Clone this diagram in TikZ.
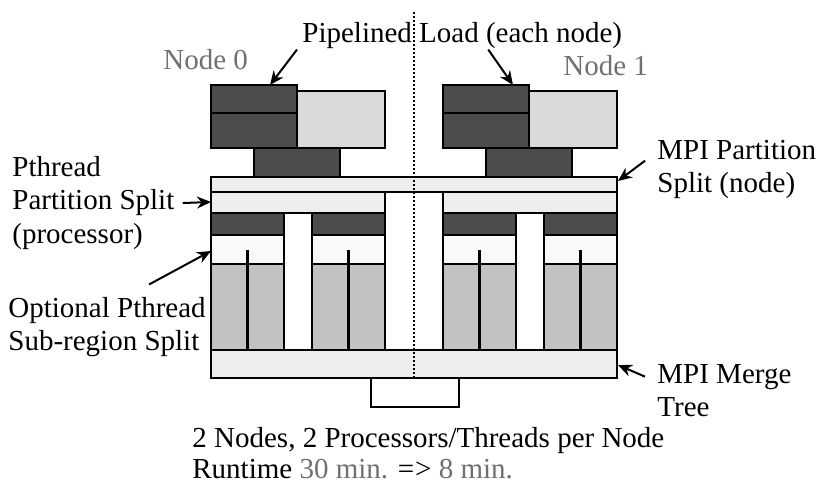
\documentclass[tikz,border=0pt]{standalone}
\usepackage{fontspec}
\setmainfont{Liberation Serif}
\usepackage{tikz}
\usetikzlibrary{positioning, arrows.meta, calc}
\usepackage{xcolor}
\definecolor{blkdark}{HTML}{4C4C4C}
\definecolor{blklight}{HTML}{DADADA}
\definecolor{blkbar}{HTML}{EEEEEE}
\definecolor{blkgray}{HTML}{C2C2C2}
\definecolor{blkwhite}{HTML}{F9F9F9}
\definecolor{txtgray}{HTML}{707070}

\tikzset{
  blk/.style={draw=black, line width=0.7pt},
  darkblk/.style={blk, fill=blkdark},
  litblk/.style={blk, fill=blklight},
  barblk/.style={blk, fill=blkbar},
  grayblk/.style={blk, fill=blkgray},
  whiteblk/.style={blk, fill=blkwhite},
  lbl/.style={font=\fontsize{14.5}{17}\selectfont, inner sep=0pt, anchor=base west},
  arr/.style={-{Stealth[length=7pt,width=6pt]}, line width=1pt},
}

\begin{document}
\begin{tikzpicture}[x=0.5pt, y=-0.5pt]
        \useasboundingbox (0,0) rectangle (817,491);

        % the two nodes
        \foreach \dx in {0,232} {
          % pipelined load stack
          \filldraw[darkblk] (211+\dx,85) rectangle (297+\dx,148);
          \draw[blk] (211+\dx,113) -- (297+\dx,113);
          \filldraw[litblk] (297+\dx,91) rectangle (385+\dx,148);
          \filldraw[darkblk] (254+\dx,148) rectangle (340+\dx,177);
          % pthread partition band
          \filldraw[barblk] (211+\dx,192) rectangle (385+\dx,213);
          % processor columns
          \foreach \cx in {211,312} {
            \filldraw[darkblk] (\cx+\dx,213) rectangle (\cx+\dx+73,235);
            \filldraw[whiteblk] (\cx+\dx,235) rectangle (\cx+\dx+73,264);
            \filldraw[grayblk] (\cx+\dx,264) rectangle (\cx+\dx+73,350);
            \draw[line width=1.3pt] (\cx+\dx+36.5,250) -- (\cx+\dx+36.5,350);
          }
        }

        % MPI split and merge bars
        \filldraw[barblk] (211,177) rectangle (617,192);
        \filldraw[barblk] (211,350) rectangle (617,378);
        \draw[line width=0.6pt] (371,378) -- (371,407) -- (459,407) -- (459,378);

        % node boundary
        \draw[line width=0.8pt, dash pattern=on 0.8pt off 1.2pt] (414,12) -- (414,378);

        % arrow targets
        \coordinate (ldA) at (270,85);
        \coordinate (ldB) at (513,85);
        \coordinate (pthT) at (211,202);
        \coordinate (optT) at (211,251);
        \coordinate (mpiT) at (618,181);
        \coordinate (mrgT) at (618,365);

        % labels
        \node[lbl] (pipe) at (302,43) {Pipelined Load (each node)};
        \node[lbl, text=txtgray] (nodeA) at (163,70) {Node 0};
        \node[lbl, text=txtgray] (nodeB) at (563,76) {Node 1};
        \node[lbl] (pthA) at (12,177) {Pthread};
        \node[lbl] (pthB) at (12,210) {Partition Split};
        \node[lbl] (pthC) at (12,243) {(processor)};
        \node[lbl] (optA) at (8,317) {Optional Pthread};
        \node[lbl] (optB) at (8,350) {Sub-region Split};
        \node[lbl] (mpiA) at (657,160) {MPI Partition};
        \node[lbl] (mpiB) at (657,193) {Split (node)};
        \node[lbl] (mrgA) at (657,383) {MPI Merge};
        \node[lbl] (mrgB) at (657,416) {Tree};
        \node[lbl] (sumA) at (192,447) {2 Nodes, 2 Processors/Threads per Node};
        \node[lbl] (sumB) at (192,478) {Runtime \textcolor{txtgray}{30 min.} =\kern0.5pt> \textcolor{txtgray}{8 min.}};

        % connectors
        \draw[arr] ([xshift=-2.5pt]pipe.south west) -- (ldA);
        \draw[arr] ([xshift=13pt]pipe.south) -- (ldB);
        \draw[arr] ([xshift=4pt]pthB.east) -- (pthT);
        \draw[arr] ([xshift=21pt,yshift=6pt]optA.north) -- (optT);
        \draw[arr] ([xshift=-6pt]mpiA.south west) -- (mpiT);
        \draw[arr] ([xshift=-6pt]mrgA.west) -- (mrgT);
      \end{tikzpicture}
\end{document}
